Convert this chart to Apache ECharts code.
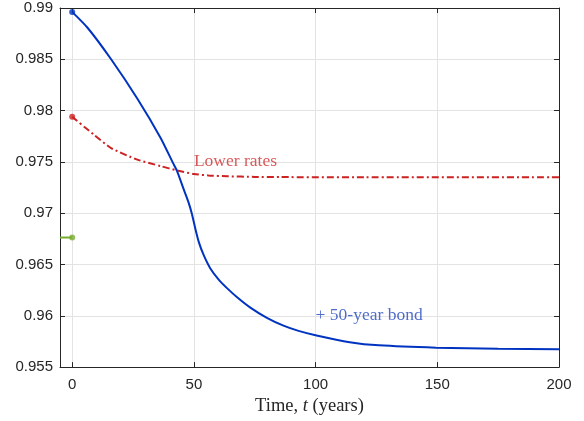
<!DOCTYPE html>
<html>
<head>
<meta charset="utf-8">
<script src="https://cdn.jsdelivr.net/npm/echarts@6/dist/echarts.min.js"></script>
<style>html,body{margin:0;padding:0;background:#fff}#c{width:584px;height:421px}</style>
</head>
<body>
<div id="c"></div>
<script>
// ---- data ----
const xTicks = [0, 50, 100, 150, 200];
const yTicks = [0.955, 0.96, 0.965, 0.97, 0.975, 0.98, 0.985, 0.99];

const bondX = [0, 6.4, 16, 26.8, 36.4, 41.4, 43.1, 45.8, 47.8, 49.2, 50.6, 52.0, 54.0, 56.7, 60.2, 63.6, 68, 73.2, 80, 86.8, 93, 100.4, 114, 126, 149.5, 175, 200];
const bondY = [0.98962, 0.98805, 0.98500, 0.98115, 0.97731, 0.97490, 0.97410, 0.97234, 0.97106, 0.96993, 0.96849, 0.96721, 0.96593, 0.96464, 0.96353, 0.96270, 0.96176, 0.96080, 0.95980, 0.95904, 0.95853, 0.95808, 0.95743, 0.95712, 0.95689, 0.95678, 0.95673];

const lowX = [0, 9.1, 16, 26.8, 36.4, 43.2, 50, 56, 63.6, 75, 85.4, 120, 200];
const lowY = [0.97939, 0.97762, 0.97635, 0.97522, 0.97459, 0.97416, 0.97382, 0.97368, 0.97360, 0.97354, 0.97352, 0.97350, 0.97350];

const baseX = [-5, 0];
const baseY = [0.96763, 0.96763];

const annTexts = ['Lower rates', '+ 50-year bond'];
const annX = [50, 100];
const annY = [0.9750, 0.9600];

// ---- chart ----
const BLUE = '#0033c0', RED = '#cc2222', GREEN = '#77ac30';
const zip = (a, b) => a.map((v, i) => [v, b[i]]);
const axisColor = '#262626';
const tickFont = {fontFamily: 'Liberation Sans, Arial, sans-serif', fontSize: 15, color: axisColor};
const serif = 'Liberation Serif, DejaVu Serif, serif';

const chart = echarts.init(document.getElementById('c'), null, {renderer: 'canvas'});
const xBase = {
  type: 'value', min: -5, max: 200,
  axisLine: {show: true, onZero: false, lineStyle: {color: axisColor, width: 1}},
  axisTick: {show: true, inside: true, length: 5, customValues: xTicks, lineStyle: {color: axisColor}},
  splitLine: {show: false}
};
const yBase = {
  type: 'value', min: 0.955, max: 0.99, interval: 0.005,
  axisLine: {show: true, onZero: false, lineStyle: {color: axisColor, width: 1}},
  axisTick: {show: true, inside: true, length: 5, lineStyle: {color: axisColor}},
  splitLine: {show: false}
};
const option = {
  animation: false,
  backgroundColor: '#fff',
  grid: {left: 60, right: 25, top: 8, bottom: 49, containLabel: false},
  xAxis: [
    Object.assign({}, xBase, {
      position: 'bottom',
      axisLabel: Object.assign({customValues: xTicks, margin: 10}, tickFont),
      splitLine: {show: true, lineStyle: {color: '#e3e3e3', width: 1}},
      name: '{r|Time, }{i|t}{r| (years)}',
      nameLocation: 'middle', nameGap: 20,
      nameTextStyle: {
        rich: {
          r: {fontFamily: serif, fontSize: 18.5, color: axisColor},
          i: {fontFamily: serif, fontStyle: 'italic', fontSize: 18.5, color: axisColor}
        }
      }
    }),
    Object.assign({}, xBase, {position: 'top', axisLabel: {show: false}})
  ],
  yAxis: [
    Object.assign({}, yBase, {
      position: 'left',
      axisLabel: Object.assign({margin: 7, formatter: v => String(+v.toFixed(4))}, tickFont),
      splitLine: {show: true, lineStyle: {color: '#e3e3e3', width: 1}}
    }),
    Object.assign({}, yBase, {position: 'right', axisLabel: {show: false}})
  ],
  series: [
    {
      type: 'line', data: zip(lowX, lowY), showSymbol: false, smooth: 0.2,
      lineStyle: {color: RED, width: 2, type: [7, 3, 2, 3]}, z: 3
    },
    {
      type: 'line', data: zip(bondX, bondY), showSymbol: false, smooth: 0.2,
      lineStyle: {color: BLUE, width: 2}, z: 4
    },
    {
      type: 'line', data: zip(baseX, baseY), showSymbol: false,
      lineStyle: {color: GREEN, width: 2}, z: 3
    },
    {
      type: 'scatter', symbol: 'circle', symbolSize: 6, z: 5,
      data: [
        {value: [bondX[0], bondY[0]], itemStyle: {color: BLUE}},
        {value: [lowX[0], lowY[0]], itemStyle: {color: RED}},
        {value: [baseX[1], baseY[1]], itemStyle: {color: GREEN}}
      ]
    },
    {
      type: 'scatter', symbolSize: 0, z: 6, silent: true,
      data: annTexts.map((t, i) => ({
        value: [annX[i], annY[i]], name: t,
        label: {
          show: true, position: 'right', distance: 0, formatter: t,
          fontFamily: serif, fontSize: 17.5,
          color: i === 0 ? '#d03030' : '#2448c0'
        }
      }))
    }
  ]
};
chart.setOption(option);
</script>
</body>
</html>
